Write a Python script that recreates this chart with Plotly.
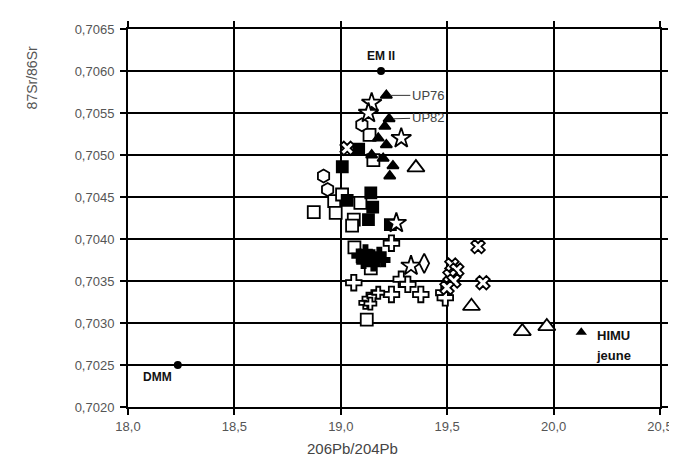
import plotly.graph_objects as go

# ---- data (206Pb/204Pb, 87Sr/86Sr) ----
open_sq_x = [18.873, 18.969, 18.976, 19.092, 19.061, 19.053, 19.064, 19.141, 19.122, 19.006, 19.135, 19.153]
open_sq_y = [0.70432, 0.70445, 0.70431, 0.70443, 0.70423, 0.70416, 0.70390, 0.70365, 0.70304, 0.70453, 0.70524, 0.70494]

open_circ_x = [19.099, 18.919, 18.938]
open_circ_y = [0.70536, 0.70475, 0.70459]

fill_sq_x = [19.084, 19.007, 19.141, 19.030, 19.150, 19.130, 19.233]
fill_sq_y = [0.70507, 0.70486, 0.70455, 0.70446, 0.70438, 0.70423, 0.70417]

star_x = [19.145, 19.130, 19.284, 19.261, 19.330]
star_y = [0.70562, 0.70550, 0.70520, 0.70419, 0.70368]

diam_x = [19.392]
diam_y = [0.70371]

cross_x = [19.238, 19.061, 19.284, 19.315, 19.376, 19.238, 19.484, 19.491]
cross_y = [0.70395, 0.70348, 0.70352, 0.70346, 0.70334, 0.70334, 0.70336, 0.70330]

small_cross_x = [19.115, 19.130, 19.153, 19.176, 19.139]
small_cross_y = [0.70324, 0.70329, 0.70332, 0.70336, 0.70323]

blob_x = [19.084, 19.116, 19.149, 19.181, 19.199, 19.107, 19.153, 19.130]
blob_y = [0.70380, 0.70385, 0.70379, 0.70382, 0.70375, 0.70373, 0.70370, 0.70377]

xmark_x = [19.645, 19.668, 19.522, 19.545, 19.513, 19.531, 19.499, 19.030]
xmark_y = [0.70391, 0.70348, 0.70369, 0.70363, 0.70356, 0.70350, 0.70342, 0.70508]

open_tri_x = [19.353, 19.614, 19.853, 19.968]
open_tri_y = [0.70485, 0.70320, 0.70290, 0.70296]

fill_tri_x = [19.214, 19.227, 19.207, 19.176, 19.214, 19.145, 19.245, 19.230, 19.199]
fill_tri_y = [0.70571, 0.70543, 0.70534, 0.70520, 0.70512, 0.70500, 0.70487, 0.70475, 0.70496]

em2 = (19.189, 0.7060)
dmm = (18.234, 0.7025)
himu = (20.13, 0.70289)

x_ticks = [18.0, 18.5, 19.0, 19.5, 20.0, 20.5]
y_ticks = [0.7020, 0.7025, 0.7030, 0.7035, 0.7040, 0.7045, 0.7050, 0.7055, 0.7060, 0.7065]

FONT = "Liberation Sans, Arial, sans-serif"

fig = go.Figure()

def add(xs, ys, symbol, size, fill="white", lw=1.8):
    fig.add_trace(go.Scatter(
        x=xs, y=ys, mode="markers",
        marker=dict(symbol=symbol, size=size, color=fill,
                    line=dict(color="black", width=lw)),
        hoverinfo="skip", showlegend=False))

add(open_sq_x, open_sq_y, "square", 12)
add(open_circ_x, open_circ_y, "hexagon", 13)
add(fill_sq_x, fill_sq_y, "square", 11, fill="black")
add(star_x, star_y, "star", 15)
add(diam_x, diam_y, "diamond-tall", 14)
add(cross_x, cross_y, "cross", 13)
add(small_cross_x, small_cross_y, "cross", 10)
add(blob_x, blob_y, "cross", 11, fill="black", lw=1.5)
add(xmark_x, xmark_y, "x", 12)
add(open_tri_x, open_tri_y, "triangle-up", 15)
add(fill_tri_x, fill_tri_y, "triangle-up", 10, fill="black")
add([em2[0]], [em2[1]], "circle", 8, fill="black", lw=0)
add([dmm[0]], [dmm[1]], "circle", 8, fill="black", lw=0)
add([himu[0]], [himu[1]], "triangle-up", 10, fill="black", lw=0)

annotations = [
    dict(x=em2[0], y=em2[1], text="<b>EM II</b>", showarrow=False,
         xshift=0, yshift=15, font=dict(size=12, color="#111", family=FONT)),
    dict(x=dmm[0], y=dmm[1], text="<b>DMM</b>", showarrow=False,
         xshift=-20, yshift=-12, font=dict(size=12, color="#111", family=FONT)),
    dict(x=himu[0], y=himu[1], text="<b>HIMU</b>", showarrow=False,
         xanchor="left", xshift=14, yshift=-3, font=dict(size=13, color="#111", family=FONT)),
    dict(x=himu[0], y=himu[1], text="<b>jeune</b>", showarrow=False,
         xanchor="left", xshift=13, yshift=-23, font=dict(size=13, color="#111", family=FONT)),
    dict(x=fill_tri_x[0], y=fill_tri_y[0], text="UP76", showarrow=True,
         arrowhead=0, arrowwidth=1, arrowcolor="#333", ax=42, ay=0, standoff=4,
         xanchor="center", font=dict(size=13, color="#444", family=FONT)),
    dict(x=fill_tri_x[1], y=fill_tri_y[1], text="UP82", showarrow=True,
         arrowhead=0, arrowwidth=1, arrowcolor="#333", ax=39, ay=-1, standoff=4,
         xanchor="center", font=dict(size=13, color="#444", family=FONT)),
    dict(xref="paper", yref="paper", x=-0.18, y=0.87, text="87Sr/86Sr",
         xanchor="center", yanchor="middle",
         textangle=-90, showarrow=False, font=dict(size=14, color="#555", family=FONT)),
    dict(xref="paper", yref="paper", x=0.4225, y=-0.11, text="206Pb/204Pb",
         xanchor="center", yanchor="middle",
         showarrow=False, font=dict(size=15, color="#444", family=FONT)),
]

axis_common = dict(showline=True, linecolor="black", linewidth=2, mirror="ticks",
                   ticks="outside", ticklen=6, tickwidth=2, tickcolor="black",
                   showgrid=True, gridcolor="black", gridwidth=2, zeroline=False,
                   tickfont=dict(size=13, color="#555", family=FONT))

fig.update_layout(
    width=677, height=457,
    margin=dict(l=120, r=15, t=21, b=58),
    paper_bgcolor="white", plot_bgcolor="white",
    separators=", ",
    showlegend=False,
    xaxis=dict(range=[18.0, 20.5], tickvals=x_ticks, tickformat=".1f", **axis_common),
    yaxis=dict(range=[0.7020, 0.7065], tickvals=y_ticks, tickformat=".4f",
               ticklabelstandoff=3, **axis_common),
    annotations=annotations,
)

fig.write_html("out.html")
